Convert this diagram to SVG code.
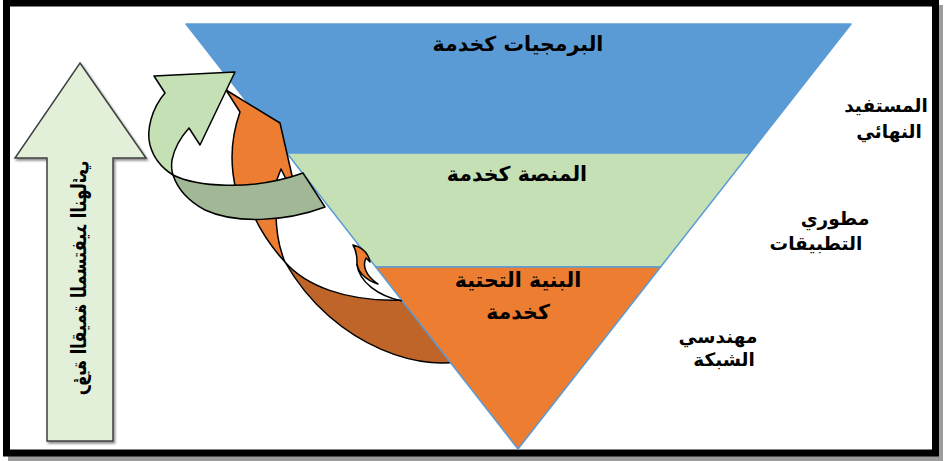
<svg xmlns="http://www.w3.org/2000/svg" width="945" height="461" viewBox="0 0 945 461">
  <defs>
    <style>
      .lbl { font-family: "DejaVu Sans", "Noto Sans", sans-serif; font-weight: bold; fill: #000; text-anchor: middle; }
      .main { font-size: 20.5px; }
      .side { font-size: 18.5px; }
      .band { stroke: #5B9BD5; stroke-width: 1.5; stroke-linejoin: round; }
      .ol { stroke: #000; stroke-width: 1.5; stroke-linejoin: round; }
    </style>
    <filter id="sh" x="-10%" y="-10%" width="130%" height="130%">
      <feDropShadow dx="1.5" dy="2" stdDeviation="1" flood-color="#000" flood-opacity="0.45"/>
    </filter>
  </defs>

  <!-- frame -->
  <g id="frame">
    <rect x="8" y="5" width="935" height="456" fill="#9c9c9c"/>
    <rect x="6.5" y="3" width="929" height="450" fill="#fff" stroke="#000" stroke-width="7"/>
  </g>

  <!-- value arrow -->
  <g id="value-arrow">
    <path d="M80,63 L146,158 L113,158 L113,441 L47,441 L47,158 L15,158 Z" fill="#E2EFD9" stroke="#404040" stroke-width="1.5" filter="url(#sh)"/>
    <text class="lbl" font-size="20.5" dominant-baseline="central" transform="translate(79,278) rotate(-90) scale(-0.79,1)">رؤية القيمة للمستفيد النهائي</text>
  </g>

  <!-- connectors: curved arrows (back part) -->
  <g id="connectors">
    <path id="orange-back" class="ol" fill="#C0652A" d="M285,262 C305,285 345,302 402,300 L430,298 L470,358 C430,375 335,350 285,262 Z"/>
  </g>

  <!-- pyramid -->
  <g id="saas">
    <path class="band" fill="#5B9BD5" d="M186,24 L851,24 L749.9,153 L286.8,153 Z"/>
    <text class="lbl main" x="518" y="51">البرمجيات كخدمة</text>
  </g>
  <g id="paas">
    <path class="band" fill="#C5E0B4" d="M286.8,153 L749.9,153 L660.6,267 L375.8,267 Z"/>
    <text class="lbl main" x="517" y="181">المنصة كخدمة</text>
  </g>
  <g id="iaas">
    <path class="band" fill="#ED7D31" d="M375.8,267 L660.6,267 L518,449 Z"/>
    <text class="lbl main" x="518" y="287">البنية التحتية</text>
    <text class="lbl main" x="518" y="319">كخدمة</text>
  </g>

  <!-- connectors: curved arrows (front parts) -->
  <g id="connectors-front">
    <path class="ol" fill="#ED7D31" d="M226,90 L280,123 L293,180 L236,190 C230,165 230,140 240,112 Z"/>
    <path class="ol" fill="#fff" d="M276,182 L281,169 L287,181 Z"/>
    <path class="ol" fill="#ED7D31" d="M252,212 L276,212 C276,230 279,248 285,262 C272,248 260,230 252,212 Z"/>
    <path class="ol" fill="#ED7D31" d="M353,245 C362,247 368,252 370,262 L366,258 C362,266 366,276 378,284 C365,280 356,270 357,262 C357,255 356,250 353,245 Z"/>
    <path fill="none" stroke="#000" stroke-width="1.5" d="M357,264 C359,282 378,296 402,301"/>
    <path class="ol" fill="#C5E0B4" d="M165,93 L154,76 L235,72 L200,145 L189,128 C180,138 174,150 172,160 C171,167 172,172 173,175 C165,170 154,160 150,145 C146,130 152,108 165,93 Z"/>
    <path class="ol" fill="#A2B795" d="M173,175 C195,186 250,192 303,173 L325,207 C285,222 235,224 205,210 C190,202 178,190 173,175 Z"/>
  </g>

  <!-- role labels -->
  <g id="end-user">
    <text class="lbl side" x="886" y="112">المستفيد</text>
    <text class="lbl side" x="889" y="138">النهائي</text>
  </g>
  <g id="developers">
    <text class="lbl side" x="835" y="225">مطوري</text>
    <text class="lbl side" x="816" y="250">التطبيقات</text>
  </g>
  <g id="network-engineers">
    <text class="lbl side" x="718" y="343">مهندسي</text>
    <text class="lbl side" x="724" y="366">الشبكة</text>
  </g>
</svg>
